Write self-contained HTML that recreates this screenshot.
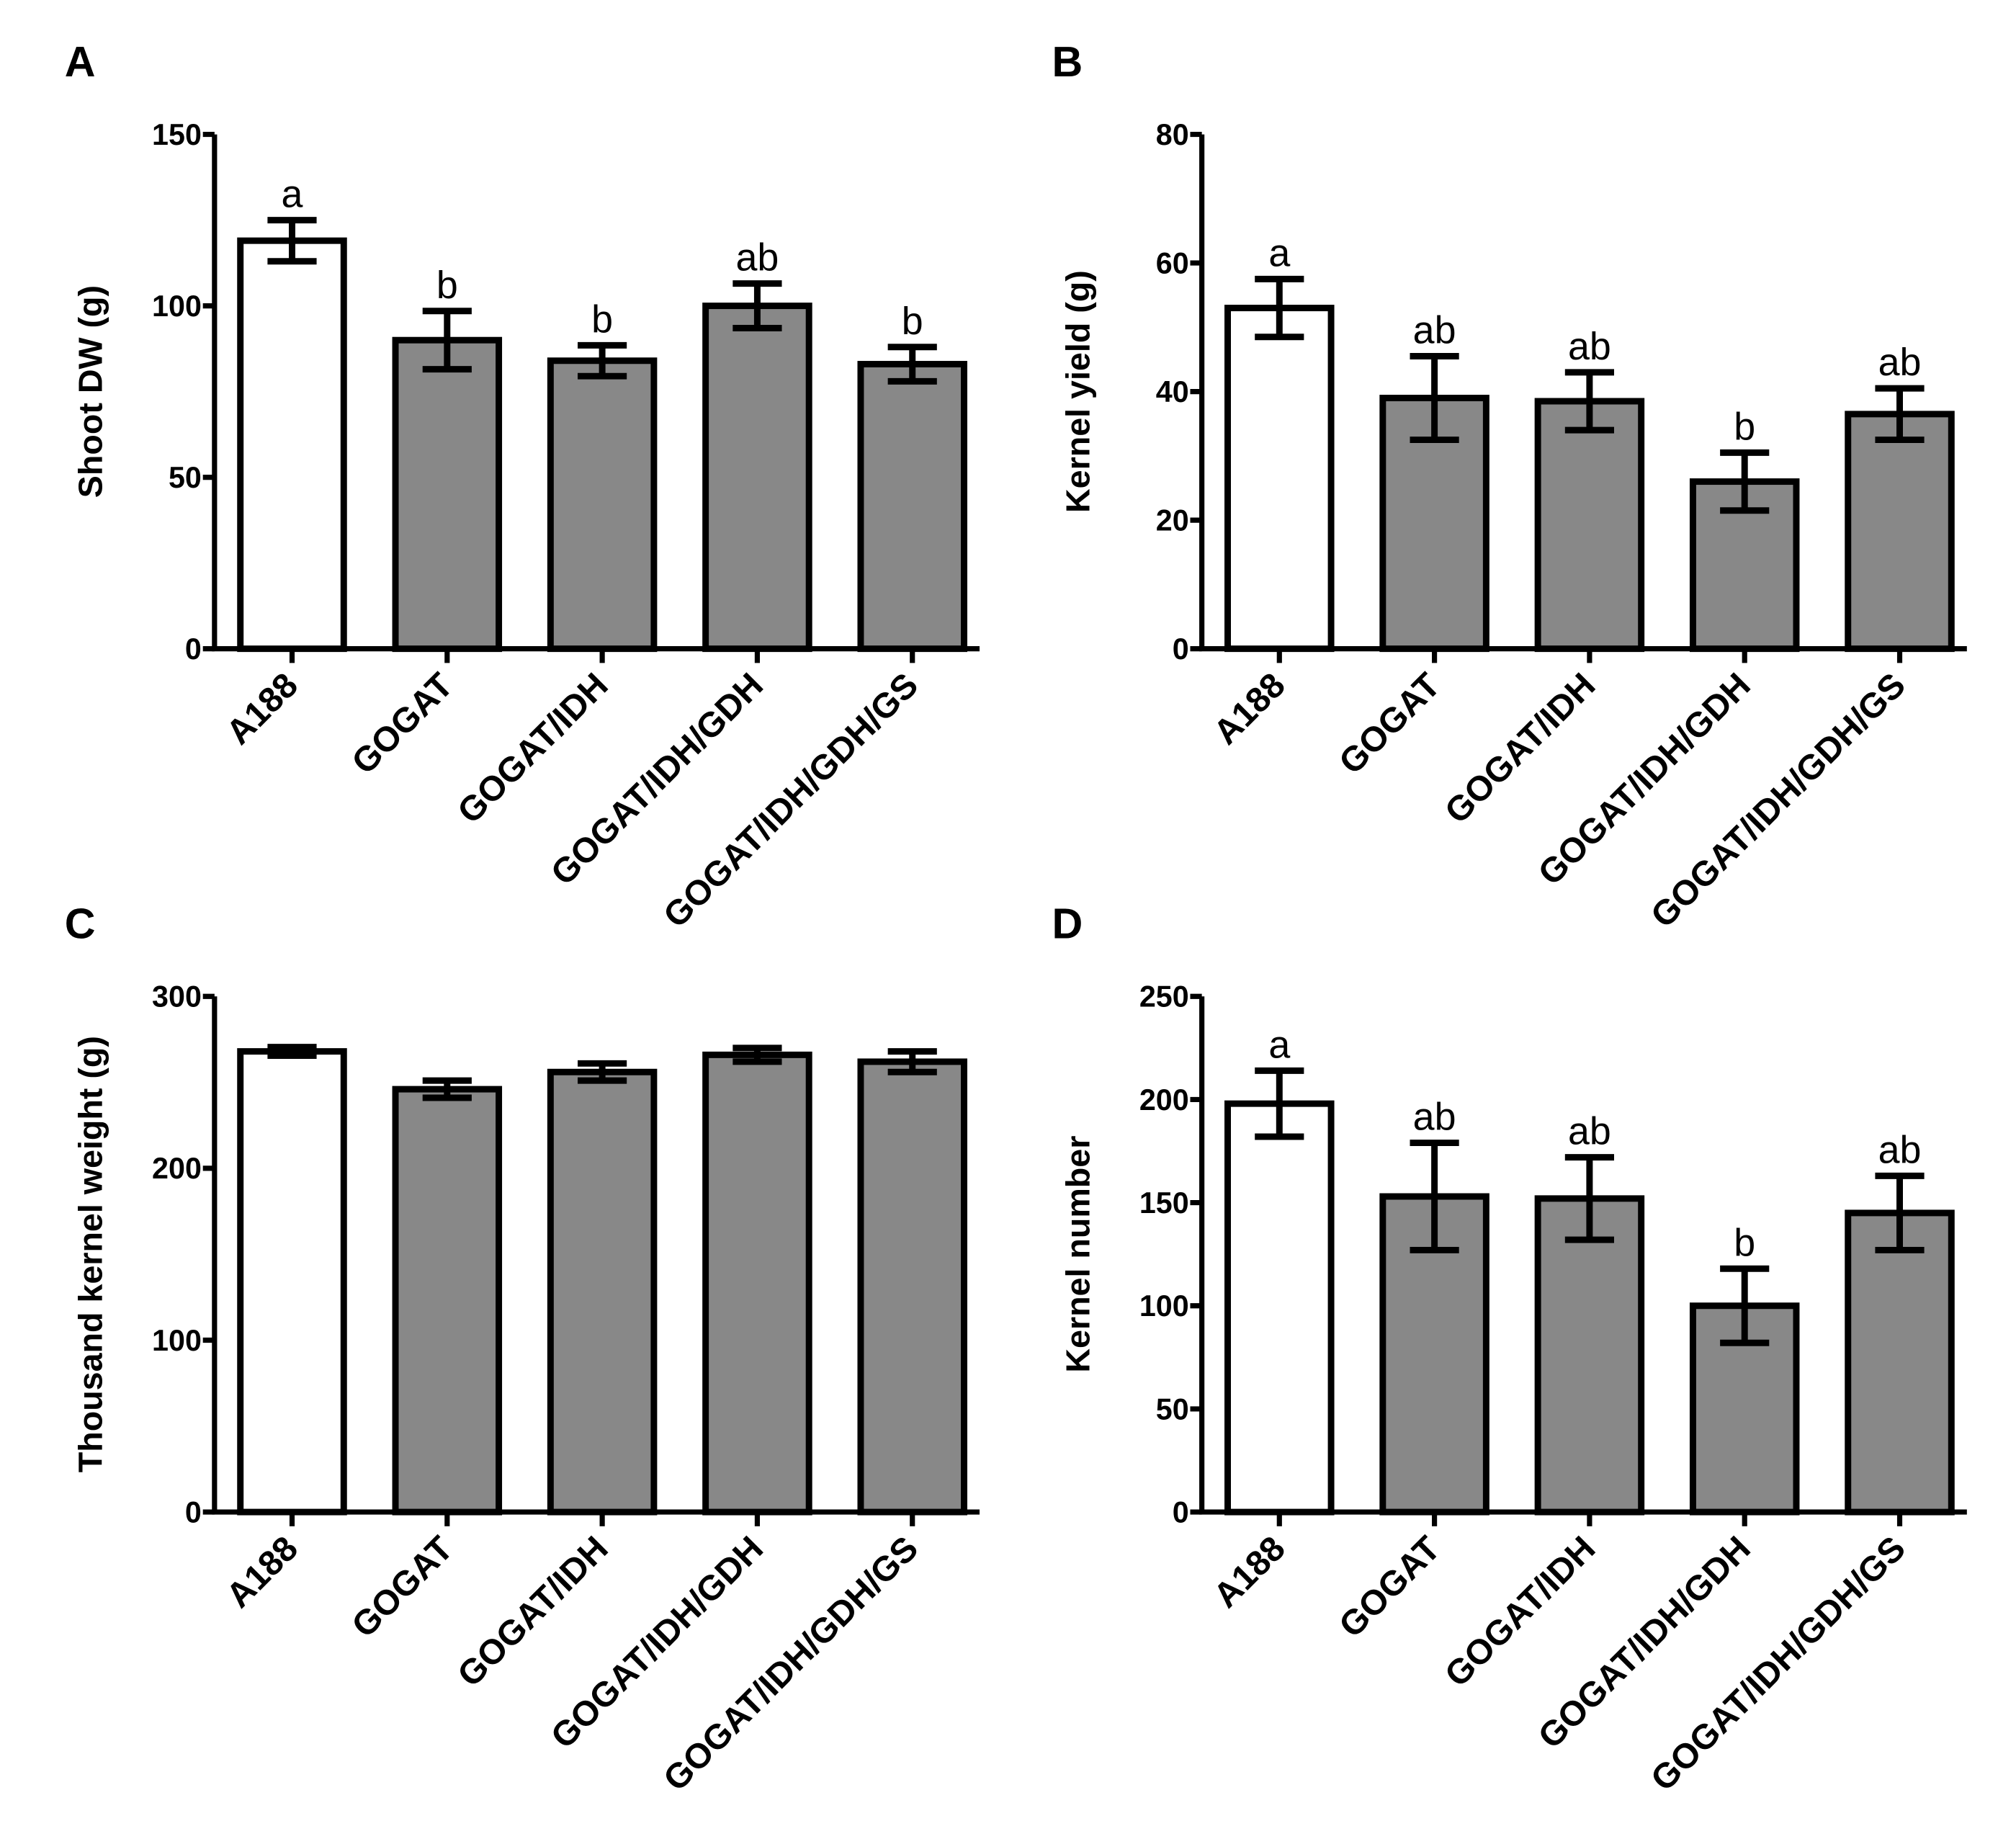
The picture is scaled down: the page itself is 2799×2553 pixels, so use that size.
<!DOCTYPE html>
<html><head><meta charset="utf-8"><style>
html,body{margin:0;padding:0;background:#fff}
svg{display:block}
text{font-family:"Liberation Sans",Arial,sans-serif}
</style></head><body>
<svg id="fig" width="2799" height="2553" viewBox="0 0 1560 1423" preserveAspectRatio="none" xmlns="http://www.w3.org/2000/svg"></svg>
<script>
const categories = ["A188","GOGAT","GOGAT/IDH","GOGAT/IDH/GDH","GOGAT/IDH/GDH/GS"];
const shootValues = [119, 90, 84, 100, 83];
const shootErrors = [6, 8.5, 4.5, 6.5, 5];
const shootLetters = ["a","b","b","ab","b"];
const shootTicks = [0, 50, 100, 150];
const yieldValues = [53, 39, 38.5, 26, 36.5];
const yieldErrors = [4.5, 6.5, 4.5, 4.5, 4];
const yieldLetters = ["a","ab","ab","b","ab"];
const yieldTicks = [0, 20, 40, 60, 80];
const tkwValues = [268, 246, 256, 266, 262];
const tkwErrors = [2.5, 5, 5, 4, 6];
const tkwLetters = ["","","","",""];
const tkwTicks = [0, 100, 200, 300];
const numValues = [198, 153, 152, 100, 145];
const numErrors = [16, 26, 20, 18, 18];
const numLetters = ["a","ab","ab","b","ab"];
const numTicks = [0, 50, 100, 150, 200, 250];

const svg = document.getElementById('fig');
const NS = 'http://www.w3.org/2000/svg';
function mk(tag, attrs, parent){const e=document.createElementNS(NS,tag);for(const k in attrs)e.setAttribute(k,attrs[k]);(parent||svg).appendChild(e);return e;}

function panel(id, letter, ax, top, bottom, ymax, ticks, vals, errs, letters, title){
  const g = mk('g',{});
  
  
  const y = v => bottom - (v/ymax)*(bottom-top);
  const x = i => ax + 60 + i*120;
  const pl = mk('text',{x:ax-116,y:top-45,'font-size':33,'font-weight':'bold'},g);
  pl.textContent = letter;
  
  
  const yt = mk('text',{x:0,y:0,'font-size':26,'font-weight':'bold','text-anchor':'middle',transform:`translate(${ax-87},${(top+bottom)/2}) rotate(-90)`},g);
  yt.textContent = title;
  
  
  vals.forEach((v,i)=>{
    const cx = x(i);
    const bar = mk('rect',{x:cx-40,y:y(v),width:80,height:bottom-y(v),fill:i===0?'#fff':'#888',stroke:'#000','stroke-width':5},g);
    
    
    const eb = mk('path',{d:`M${cx},${y(v+errs[i])}V${y(v-errs[i])}M${cx-19},${y(v+errs[i])}H${cx+19}M${cx-19},${y(v-errs[i])}H${cx+19}`,stroke:'#000','stroke-width':5,fill:'none'},g);
    
    
    if(letters[i]){
      const t = mk('text',{x:cx,y:y(v+errs[i])-10,'font-size':30,'text-anchor':'middle'},g);
      t.textContent = letters[i];
      
      
    }
    mk('line',{x1:cx,x2:cx,y1:bottom,y2:bottom+11,stroke:'#000','stroke-width':4},g);
    const cl = mk('text',{x:0,y:0,'font-size':27,'font-weight':'bold','text-anchor':'end',transform:`translate(${cx+6},${bottom+30}) rotate(-45)`},g);
    cl.textContent = categories[i];
    
    
  });
  const axes = mk('path',{d:`M${ax},${top}V${bottom}H${ax+592}`,stroke:'#000','stroke-width':4,fill:'none'},g);
  
  
  ticks.forEach(t=>{
    mk('line',{x1:ax-9,x2:ax,y1:y(t),y2:y(t),stroke:'#000','stroke-width':4},g);
    const tl = mk('text',{x:ax-10,y:y(t)+8,'font-size':23,'font-weight':'bold','text-anchor':'end'},g);
    tl.textContent = t;
    
    
  });
}
panel('a','A',166,104,502,150,shootTicks,shootValues,shootErrors,shootLetters,'Shoot DW (g)');
panel('b','B',930,104,502,80,yieldTicks,yieldValues,yieldErrors,yieldLetters,'Kernel yield (g)');
panel('c','C',166,771,1170,300,tkwTicks,tkwValues,tkwErrors,tkwLetters,'Thousand kernel weight (g)');
panel('d','D',930,771,1170,250,numTicks,numValues,numErrors,numLetters,'Kernel number');
</script>
</body></html>
